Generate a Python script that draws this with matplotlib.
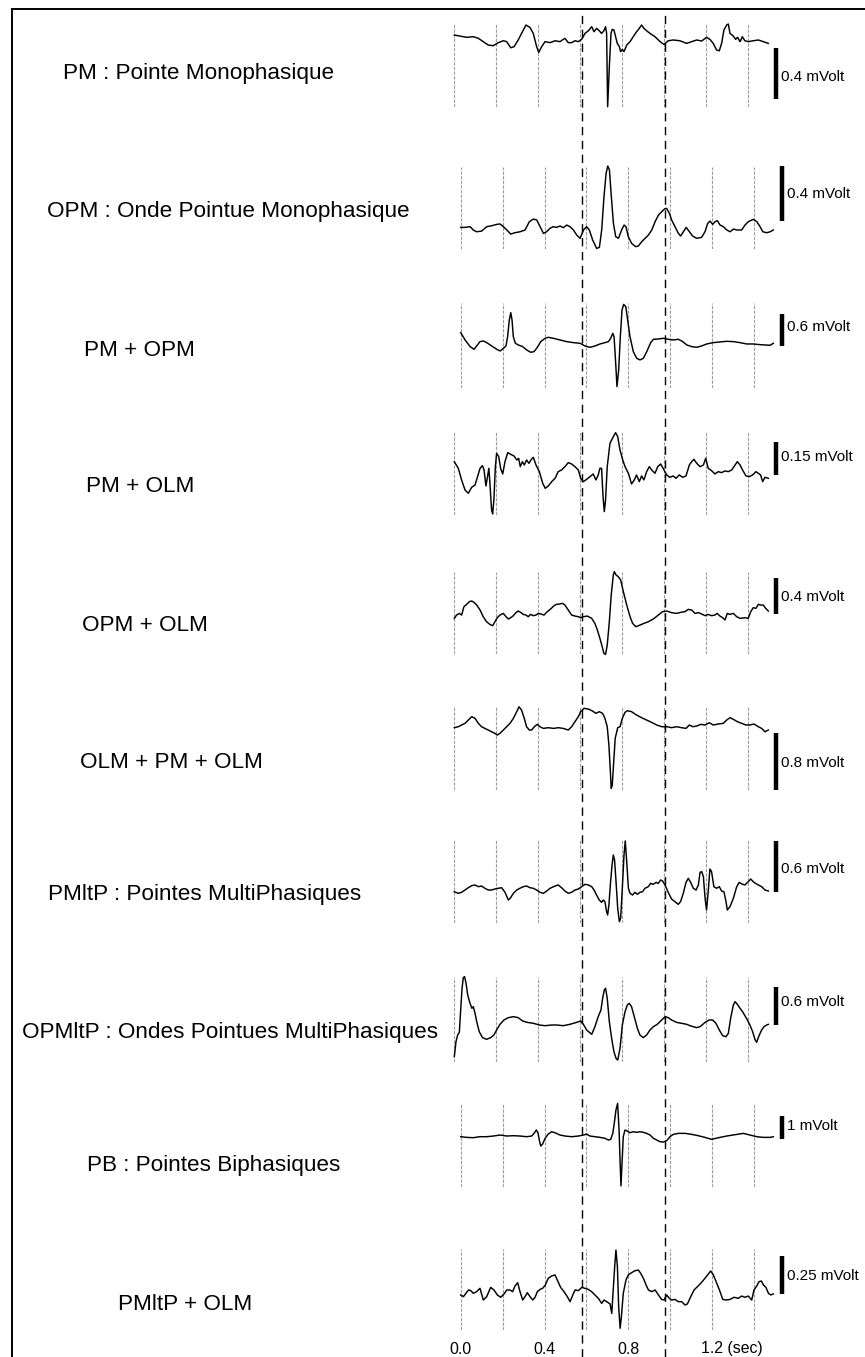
import matplotlib.pyplot as plt
from matplotlib.lines import Line2D
from matplotlib.transforms import blended_transform_factory

plt.rcParams['font.family'] = ['Liberation Sans', 'DejaVu Sans']

W, H = 865, 1357
PX_PER_SEC = 209.5   # horizontal scale of every trace
T_END = 1.5
BAR_T = 1.535        # where the amplitude bar sits, in seconds

# ---- data -----------------------------------------------------------------
labels = ["PM : Pointe Monophasique",
          "OPM : Onde Pointue Monophasique",
          "PM + OPM",
          "PM + OLM",
          "OPM + OLM",
          "OLM + PM + OLM",
          "PMltP : Pointes MultiPhasiques",
          "OPMltP : Ondes Pointues MultiPhasiques",
          "PB : Pointes Biphasiques",
          "PMltP + OLM"]
scale_mv = [0.4, 0.4, 0.6, 0.15, 0.4, 0.8, 0.6, 0.6, 1, 0.25]
scale_txt = ["0.4 mVolt", "0.4 mVolt", "0.6 mVolt", "0.15 mVolt", "0.4 mVolt",
             "0.8 mVolt", "0.6 mVolt", "0.6 mVolt", "1 mVolt", "0.25 mVolt"]
grid_t = [0.0, 0.2, 0.4, 0.6, 0.8, 1.0, 1.2, 1.4]
tick_t = [0.0, 0.4, 0.8, 1.2]
tick_lab = ["0.0", "0.4", "0.8", "1.2 (sec)"]
mark_t = [0.608, 1.008]

t_pm = [0.000, 0.027, 0.059, 0.091, 0.115, 0.138, 0.162, 0.186, 0.210, 0.234,
        0.250, 0.269, 0.285, 0.305, 0.321, 0.342, 0.361, 0.377, 0.393, 0.403,
        0.417, 0.433, 0.457, 0.481, 0.504, 0.528, 0.544, 0.560, 0.576, 0.592,
        0.608, 0.624, 0.640, 0.656, 0.667, 0.679, 0.692, 0.703, 0.714, 0.722,
        0.727, 0.732, 0.740, 0.748, 0.754, 0.762, 0.770, 0.778, 0.788, 0.794,
        0.802, 0.810, 0.823, 0.839, 0.854, 0.870, 0.883, 0.894, 0.905, 0.918,
        0.934, 0.958, 0.982, 1.001, 1.021, 1.045, 1.077, 1.109, 1.133, 1.157,
        1.181, 1.204, 1.220, 1.236, 1.252, 1.265, 1.276, 1.287, 1.300, 1.308,
        1.316, 1.332, 1.343, 1.352, 1.364, 1.375, 1.387, 1.403, 1.427, 1.451,
        1.475, 1.499]
v_pm = [0.013, 0.005, -0.005, 0, -0.013, -0.039, -0.066, -0.071, -0.047, -0.032,
        -0.039, -0.087, -0.079, -0.026, 0.026, 0.092, 0.074, 0.026, -0.079, -0.124,
        -0.079, -0.039, -0.047, -0.032, -0.039, -0.013, -0.047, -0.047, -0.032, -0.039,
        -0.021, 0.026, 0.047, 0.079, 0.039, 0.066, 0.047, 0.026, 0.047, 0.079,
        0.026, -0.553, -0.237, 0.026, 0.058, 0.053, 0, -0.053, -0.079, -0.118,
        -0.100, -0.118, -0.066, -0.039, 0, 0.039, 0.066, 0.092, 0.066, 0.047,
        0.026, 0, -0.039, -0.061, -0.032, -0.026, -0.032, -0.053, -0.039, -0.026,
        -0.034, -0.005, -0.021, -0.053, -0.105, -0.111, -0.053, 0.053, 0.092, 0.100,
        0.026, 0.005, -0.021, -0.005, -0.039, 0, -0.032, -0.039, -0.032, -0.026,
        -0.039, -0.053]

t_opm = [0, 0.021, 0.045, 0.060, 0.076, 0.100, 0.124, 0.148, 0.172, 0.188,
         0.204, 0.220, 0.239, 0.259, 0.283, 0.307, 0.328, 0.347, 0.363, 0.379,
         0.395, 0.410, 0.426, 0.442, 0.458, 0.474, 0.490, 0.506, 0.522, 0.538,
         0.554, 0.570, 0.586, 0.601, 0.614, 0.630, 0.649, 0.662, 0.673, 0.684,
         0.694, 0.702, 0.710, 0.719, 0.729, 0.740, 0.753, 0.768, 0.780, 0.789,
         0.800, 0.816, 0.835, 0.848, 0.864, 0.880, 0.896, 0.912, 0.928, 0.944,
         0.960, 0.975, 0.983, 0.996, 1.007, 1.023, 1.039, 1.050, 1.063, 1.076,
         1.092, 1.107, 1.126, 1.150, 1.166, 1.179, 1.190, 1.203, 1.214, 1.225,
         1.238, 1.254, 1.270, 1.286, 1.302, 1.317, 1.341, 1.357, 1.373, 1.397,
         1.413, 1.429, 1.442, 1.461, 1.477, 1.492]
v_opm = [-0.005, -0.005, 0, -0.024, -0.037, -0.032, 0, 0.007, 0.017, 0.020,
         0, -0.024, -0.054, -0.044, -0.037, -0.024, 0.037, 0.056, 0.049, 0,
         -0.049, -0.037, -0.012, 0, -0.005, 0.005, -0.007, 0.012, 0, -0.024,
         -0.061, -0.085, -0.024, 0, -0.024, -0.098, -0.159, -0.151, -0.024, 0.220,
         0.390, 0.444, 0.415, 0.220, 0.024, -0.073, -0.085, -0.024, 0.012, 0,
         -0.073, -0.122, -0.146, -0.141, -0.110, -0.085, -0.061, -0.024, 0.037, 0.085,
         0.110, 0.132, 0.134, 0.098, 0.049, 0, -0.049, -0.068, -0.037, -0.005,
         -0.037, -0.068, -0.085, -0.078, -0.037, 0.024, 0.041, 0.017, 0.037, 0.044,
         0.012, 0, -0.024, -0.037, -0.017, -0.024, -0.024, 0.012, 0.037, 0.054,
         0.037, 0, -0.037, -0.044, -0.037, -0.024]

t_pm_opm = [0, 0.021, 0.045, 0.064, 0.076, 0.092, 0.108, 0.124, 0.148, 0.172,
            0.188, 0.204, 0.216, 0.224, 0.232, 0.239, 0.245, 0.251, 0.261, 0.275,
            0.296, 0.315, 0.334, 0.350, 0.366, 0.382, 0.403, 0.418, 0.442, 0.474,
            0.506, 0.538, 0.570, 0.593, 0.617, 0.641, 0.665, 0.689, 0.705, 0.716,
            0.726, 0.732, 0.738, 0.746, 0.754, 0.762, 0.770, 0.778, 0.788, 0.797,
            0.808, 0.824, 0.840, 0.856, 0.872, 0.888, 0.907, 0.920, 0.944, 0.967,
            0.991, 1.015, 1.039, 1.060, 1.079, 1.103, 1.126, 1.150, 1.174, 1.206,
            1.238, 1.270, 1.302, 1.333, 1.365, 1.397, 1.429, 1.453, 1.477, 1.492]
v_pm_opm = [0.204, 0.064, -0.064, -0.115, -0.051, 0.032, 0.045, 0.013, -0.051, -0.115,
            -0.147, -0.096, -0.051, 0.128, 0.447, 0.587, 0.447, 0.128, 0, -0.032,
            -0.064, -0.128, -0.172, -0.160, -0.077, 0.032, 0.096, 0.115, 0.096, 0.064,
            0.032, 0.013, 0, -0.051, -0.077, -0.051, -0.013, 0.013, 0.032, 0.096,
            0.191, 0.128, -0.255, -0.830, -0.511, 0.128, 0.638, 0.747, 0.702, 0.447,
            0.128, -0.160, -0.287, -0.319, -0.287, -0.160, 0.013, 0.077, 0.083, 0.096,
            0.077, 0.064, 0.077, 0.032, -0.032, -0.064, -0.077, -0.051, -0.013, 0.013,
            0.026, 0.038, 0.032, 0.013, -0.013, -0.013, -0.026, -0.032, -0.038, 0]

t_pm_olm = [0, 0.019, 0.035, 0.051, 0.067, 0.083, 0.099, 0.111, 0.123, 0.134,
            0.142, 0.151, 0.159, 0.165, 0.170, 0.178, 0.183, 0.189, 0.196, 0.202,
            0.212, 0.221, 0.231, 0.242, 0.255, 0.269, 0.285, 0.298, 0.307, 0.315,
            0.325, 0.334, 0.345, 0.356, 0.368, 0.377, 0.390, 0.406, 0.422, 0.434,
            0.449, 0.465, 0.481, 0.496, 0.512, 0.528, 0.544, 0.560, 0.576, 0.592,
            0.603, 0.616, 0.632, 0.648, 0.663, 0.676, 0.687, 0.695, 0.703, 0.710,
            0.716, 0.722, 0.730, 0.743, 0.759, 0.770, 0.780, 0.791, 0.804, 0.815,
            0.831, 0.846, 0.859, 0.870, 0.883, 0.894, 0.905, 0.918, 0.931, 0.942,
            0.958, 0.971, 0.985, 1.001, 1.014, 1.029, 1.045, 1.058, 1.074, 1.090,
            1.106, 1.122, 1.133, 1.144, 1.157, 1.173, 1.189, 1.200, 1.212, 1.228,
            1.244, 1.260, 1.276, 1.292, 1.308, 1.324, 1.335, 1.351, 1.364, 1.376,
            1.392, 1.408, 1.424, 1.440, 1.451, 1.462, 1.472, 1.483, 1.499]
v_pm_olm = [0.0525, 0.0225, -0.030, -0.075, -0.090, -0.063, -0.0525, -0.015, 0.0225, 0.0345,
            0.015, -0.057, -0.012, 0.0225, -0.045, -0.165, -0.183, -0.120, 0.030, 0.090,
            0.075, 0.0225, -0.003, 0.0525, 0.093, 0.0855, 0.078, 0.060, 0.0675, 0.030,
            0.0525, 0.0375, 0.060, 0.045, 0.063, 0.072, 0.0375, 0.0075, -0.045, -0.0675,
            -0.057, -0.0375, -0.0225, 0.0075, 0.015, 0.030, 0.048, 0.042, 0.030, 0.015,
            -0.0225, -0.0375, -0.027, -0.015, -0.003, -0.030, -0.0075, 0.0225, 0.0225, -0.105,
            -0.1725, -0.120, 0.030, 0.135, 0.165, 0.183, 0.165, 0.105, 0.060, 0.030,
            0, -0.048, -0.030, -0.0075, -0.0375, -0.012, -0.030, 0.0075, 0.030, 0.015,
            0, 0.030, 0.042, 0.015, -0.0075, -0.018, -0.012, -0.0225, -0.0075, -0.018,
            -0.012, 0.0375, 0.0525, 0.063, 0.045, 0.030, 0.0375, 0.0675, 0.0225, 0.012,
            -0.003, 0.0075, 0.003, 0.0105, 0.0075, 0.015, 0.030, 0.0525, 0.0375, 0.015,
            -0.012, -0.015, -0.0075, 0.0075, 0, -0.0075, -0.0375, -0.018, -0.0225]

t_opm_olm = [0, 0.011, 0.024, 0.035, 0.046, 0.059, 0.072, 0.083, 0.094, 0.107,
             0.123, 0.138, 0.154, 0.170, 0.183, 0.194, 0.205, 0.218, 0.234, 0.247,
             0.258, 0.269, 0.282, 0.294, 0.305, 0.317, 0.329, 0.342, 0.353, 0.364,
             0.377, 0.390, 0.401, 0.414, 0.428, 0.444, 0.460, 0.476, 0.488, 0.501,
             0.517, 0.528, 0.544, 0.560, 0.576, 0.592, 0.603, 0.616, 0.635, 0.656,
             0.671, 0.683, 0.695, 0.706, 0.714, 0.722, 0.730, 0.740, 0.749, 0.759,
             0.764, 0.772, 0.783, 0.794, 0.807, 0.823, 0.839, 0.851, 0.867, 0.886,
             0.905, 0.926, 0.950, 0.974, 0.994, 1.014, 1.037, 1.061, 1.080, 1.101,
             1.117, 1.133, 1.149, 1.165, 1.181, 1.197, 1.212, 1.228, 1.244, 1.255,
             1.268, 1.281, 1.292, 1.303, 1.316, 1.332, 1.348, 1.364, 1.387, 1.403,
             1.415, 1.427, 1.440, 1.451, 1.462, 1.475, 1.486, 1.499]
v_opm_olm = [-0.018, 0.018, 0.036, 0.018, 0.109, 0.135, 0.164, 0.171, 0.156, 0.127,
             0.073, 0, -0.055, -0.084, -0.098, -0.055, -0.011, 0.018, 0.036, 0,
             -0.025, -0.011, 0.011, 0.044, 0.062, 0.047, 0.025, 0.018, 0, 0.025,
             0.011, 0.018, 0.036, 0.029, 0.018, 0.055, 0.084, 0.120, 0.135, 0.138,
             0.145, 0.127, 0.073, 0.018, 0.007, 0, -0.011, 0, 0.007, -0.018,
             -0.073, -0.145, -0.236, -0.327, -0.400, -0.411, -0.309, -0.055, 0.236, 0.455,
             0.491, 0.455, 0.436, 0.400, 0.273, 0.127, 0, -0.073, -0.109, -0.091,
             -0.073, -0.055, -0.025, 0.018, 0.055, 0.062, 0.044, 0.036, 0.047, 0.055,
             0.080, 0.073, 0.036, 0.044, 0.029, 0.011, 0.025, 0.011, 0.018, 0.036,
             0.007, -0.011, -0.036, 0.036, 0.025, 0.036, 0, -0.018, -0.011, -0.018,
             0.055, 0.098, 0.091, 0.135, 0.127, 0.127, 0.091, 0.062]

t_olm_pm_olm = [0, 0.019, 0.035, 0.051, 0.067, 0.083, 0.099, 0.115, 0.130, 0.146,
                0.162, 0.178, 0.194, 0.205, 0.218, 0.234, 0.250, 0.266, 0.282, 0.298,
                0.309, 0.321, 0.334, 0.345, 0.358, 0.369, 0.382, 0.396, 0.409, 0.425,
                0.449, 0.473, 0.496, 0.520, 0.544, 0.560, 0.576, 0.592, 0.603, 0.619,
                0.640, 0.660, 0.676, 0.692, 0.708, 0.719, 0.730, 0.738, 0.745, 0.749,
                0.754, 0.761, 0.768, 0.780, 0.791, 0.802, 0.815, 0.826, 0.846, 0.870,
                0.894, 0.918, 0.942, 0.966, 0.990, 1.014, 1.037, 1.061, 1.085, 1.106,
                1.122, 1.138, 1.157, 1.176, 1.197, 1.217, 1.236, 1.260, 1.284, 1.300,
                1.316, 1.332, 1.351, 1.372, 1.392, 1.411, 1.430, 1.451, 1.467, 1.483,
                1.499]
v_olm_pm_olm = [-0.014, 0, 0.024, 0.047, 0.094, 0.141, 0.118, 0.047, 0, -0.024,
                -0.047, -0.071, -0.094, -0.118, -0.094, -0.047, 0, 0.047, 0.118, 0.212,
                0.282, 0.235, 0.118, 0, -0.047, -0.047, 0, 0.033, 0, -0.024,
                -0.014, -0.024, -0.014, -0.024, -0.047, 0, 0.071, 0.141, 0.212, 0.259,
                0.249, 0.221, 0.188, 0.212, 0.188, 0.118, 0, -0.259, -0.635, -0.871,
                -0.824, -0.494, -0.165, -0.014, 0, 0.118, 0.202, 0.226, 0.212, 0.165,
                0.127, 0.094, 0.061, 0.024, 0, 0, -0.014, 0, -0.014, -0.024,
                0.024, 0, 0.009, 0.033, 0.024, 0.056, 0.024, 0.038, 0.047, 0.094,
                0.127, 0.104, 0.071, 0.047, 0.024, 0.024, 0.038, 0, -0.024, -0.071,
                -0.047]

t_pmltp = [0, 0.019, 0.035, 0.051, 0.067, 0.083, 0.099, 0.115, 0.130, 0.146,
           0.162, 0.178, 0.194, 0.210, 0.226, 0.242, 0.258, 0.269, 0.282, 0.298,
           0.313, 0.329, 0.345, 0.361, 0.377, 0.393, 0.409, 0.425, 0.441, 0.457,
           0.481, 0.496, 0.512, 0.528, 0.544, 0.560, 0.576, 0.592, 0.608, 0.624,
           0.640, 0.656, 0.667, 0.679, 0.692, 0.703, 0.711, 0.719, 0.727, 0.732,
           0.738, 0.746, 0.753, 0.759, 0.765, 0.772, 0.780, 0.788, 0.794, 0.802,
           0.810, 0.816, 0.823, 0.831, 0.839, 0.851, 0.862, 0.874, 0.886, 0.899,
           0.910, 0.926, 0.937, 0.950, 0.963, 0.974, 0.985, 0.994, 1.006, 1.021,
           1.037, 1.053, 1.069, 1.080, 1.093, 1.106, 1.117, 1.128, 1.141, 1.154,
           1.165, 1.173, 1.181, 1.189, 1.197, 1.204, 1.212, 1.220, 1.228, 1.239,
           1.252, 1.265, 1.276, 1.287, 1.297, 1.303, 1.316, 1.332, 1.348, 1.360,
           1.372, 1.387, 1.403, 1.415, 1.430, 1.451, 1.467, 1.483, 1.499]
v_pmltp = [-0.020, -0.039, -0.027, 0, 0.027, 0.051, 0.059, 0.039, 0.047, 0.020,
           0, 0, 0.012, 0.020, 0.027, -0.027, -0.118, -0.090, -0.039, 0,
           0.020, 0.039, 0.047, 0.027, 0.020, 0, -0.027, -0.039, -0.012, 0.020,
           0.047, 0.059, 0.027, -0.012, -0.039, -0.027, 0, 0.012, 0.039, 0.067,
           0.059, 0.039, 0, -0.059, -0.118, -0.145, -0.118, -0.137, -0.255, -0.294,
           -0.176, 0.098, 0.294, 0.412, 0.353, 0.098, -0.216, -0.373, -0.333, 0.020,
           0.412, 0.577, 0.333, 0.020, -0.039, -0.059, -0.027, -0.051, -0.027, -0.020,
           0.020, 0.039, 0.078, 0.067, 0.090, 0.078, 0.118, 0.106, 0.059, -0.027,
           -0.106, -0.137, -0.169, -0.137, -0.039, 0.090, 0.137, 0.090, 0.020, 0,
           0.059, 0.208, 0.216, 0.157, -0.098, -0.235, -0.020, 0.247, 0.216, 0.039,
           0.020, 0.039, -0.012, -0.020, -0.137, -0.235, -0.196, -0.098, 0.039, 0.090,
           0.071, 0.059, 0.098, 0.129, 0.090, 0.059, 0.039, 0, -0.012]

t_opmltp = [0, 0.008, 0.016, 0.024, 0.030, 0.037, 0.043, 0.049, 0.056, 0.064,
            0.075, 0.084, 0.091, 0.099, 0.107, 0.119, 0.135, 0.154, 0.173, 0.189,
            0.202, 0.218, 0.237, 0.258, 0.282, 0.305, 0.326, 0.348, 0.377, 0.406,
            0.433, 0.465, 0.488, 0.520, 0.552, 0.584, 0.603, 0.616, 0.632, 0.656,
            0.671, 0.687, 0.700, 0.708, 0.716, 0.722, 0.730, 0.740, 0.751, 0.762,
            0.772, 0.780, 0.791, 0.802, 0.815, 0.826, 0.835, 0.846, 0.859, 0.874,
            0.886, 0.902, 0.918, 0.934, 0.950, 0.969, 0.990, 1.006, 1.021, 1.037,
            1.061, 1.085, 1.109, 1.125, 1.141, 1.157, 1.173, 1.197, 1.217, 1.233,
            1.249, 1.265, 1.281, 1.297, 1.308, 1.319, 1.332, 1.340, 1.351, 1.364,
            1.376, 1.387, 1.399, 1.411, 1.424, 1.435, 1.443, 1.456, 1.467, 1.478,
            1.491, 1.499]
v_opmltp = [-0.504, -0.266, -0.159, -0.117, 0.212, 0.584, 0.754, 0.770, 0.664, 0.478,
            0.345, 0.266, 0.292, 0.186, 0.053, -0.106, -0.202, -0.228, -0.202, -0.159,
            -0.080, 0.011, 0.080, 0.117, 0.133, 0.117, 0.064, 0.042, 0.027, 0,
            -0.011, 0, 0, -0.011, 0.011, 0.042, 0.064, 0.011, -0.080, -0.149,
            -0.027, 0.133, 0.239, 0.425, 0.558, 0.584, 0.425, 0.053, -0.212, -0.425,
            -0.531, -0.558, -0.372, 0, 0.212, 0.319, 0.345, 0.292, 0.133, -0.053,
            -0.159, -0.202, -0.159, -0.080, -0.027, 0.011, 0.080, 0.133, 0.117, 0.080,
            0.042, 0.027, 0.011, -0.011, -0.027, -0.042, -0.027, 0.042, 0.080, 0.080,
            0.027, -0.080, -0.170, -0.186, -0.133, 0.106, 0.319, 0.372, 0.329, 0.266,
            0.212, 0.149, 0.080, 0, -0.106, -0.228, -0.276, -0.159, -0.080, -0.027,
            0, 0.011]

t_pb = [0, 0.029, 0.060, 0.092, 0.124, 0.156, 0.188, 0.220, 0.251, 0.283,
        0.315, 0.339, 0.350, 0.361, 0.369, 0.375, 0.382, 0.391, 0.403, 0.418,
        0.434, 0.450, 0.474, 0.498, 0.530, 0.562, 0.586, 0.601, 0.617, 0.641,
        0.665, 0.689, 0.705, 0.716, 0.726, 0.733, 0.741, 0.749, 0.756, 0.761,
        0.765, 0.770, 0.776, 0.784, 0.792, 0.808, 0.824, 0.840, 0.856, 0.872,
        0.888, 0.904, 0.920, 0.936, 0.951, 0.967, 0.983, 0.999, 1.015, 1.039,
        1.071, 1.103, 1.134, 1.166, 1.198, 1.230, 1.270, 1.309, 1.349, 1.381,
        1.413, 1.445, 1.477, 1.492]
v_pb = [0, -0.029, -0.043, 0, 0, 0.029, 0.071, 0.029, 0.043, 0.029,
        0, 0.029, 0.143, 0.286, 0.171, -0.143, -0.400, -0.314, -0.071, 0.114,
        0.214, 0.171, 0.071, 0.029, 0, 0.029, 0.071, 0.114, 0.029, 0,
        -0.029, -0.071, -0.143, -0.114, 0.143, 0.571, 1.143, 1.429, 0.286, -1.143,
        -2.114, -1.143, 0, 0.286, 0.257, 0.171, 0.214, 0.186, 0.214, 0.186,
        0.143, 0.071, -0.071, -0.143, -0.214, -0.229, -0.171, 0, 0.100, 0.143,
        0.143, 0.100, 0.043, -0.029, -0.114, -0.043, 0.029, 0.086, 0.143, 0.071,
        0, -0.029, -0.029, 0]

t_pmltp_olm = [0, 0.013, 0.025, 0.037, 0.048, 0.060, 0.076, 0.092, 0.108, 0.124,
               0.143, 0.159, 0.175, 0.191, 0.207, 0.220, 0.235, 0.248, 0.259, 0.272,
               0.283, 0.296, 0.307, 0.318, 0.331, 0.344, 0.355, 0.366, 0.379, 0.391,
               0.404, 0.418, 0.434, 0.450, 0.461, 0.477, 0.493, 0.509, 0.522, 0.535,
               0.546, 0.562, 0.578, 0.593, 0.609, 0.625, 0.641, 0.657, 0.673, 0.684,
               0.697, 0.713, 0.721, 0.729, 0.735, 0.741, 0.748, 0.754, 0.761, 0.767,
               0.776, 0.789, 0.800, 0.816, 0.832, 0.848, 0.859, 0.872, 0.885, 0.896,
               0.912, 0.928, 0.944, 0.959, 0.971, 0.983, 0.996, 1.007, 1.023, 1.039,
               1.055, 1.071, 1.082, 1.098, 1.114, 1.130, 1.146, 1.166, 1.182, 1.193,
               1.206, 1.219, 1.235, 1.251, 1.267, 1.286, 1.305, 1.325, 1.341, 1.357,
               1.373, 1.389, 1.400, 1.413, 1.424, 1.435, 1.445, 1.457, 1.469, 1.480,
               1.492]
v_pmltp_olm = [0, -0.011, 0.011, 0.033, 0.029, 0.011, 0.022, 0.044, -0.033, -0.011,
               0.050, 0.033, 0, -0.015, 0.007, 0.033, 0.033, 0.022, 0.059, 0.081,
               0.022, -0.033, -0.011, 0.015, -0.011, -0.033, -0.015, 0.022, 0.037, 0.044,
               0.066, 0.110, 0.125, 0.132, 0.099, 0.050, 0.022, -0.011, -0.044, 0,
               0.033, 0.029, 0.050, 0.044, 0.037, 0.022, 0, -0.022, -0.055, -0.033,
               -0.044, -0.059, -0.121, 0.055, 0.186, 0.296, 0.186, -0.077, -0.219, -0.143,
               0.011, 0.099, 0.132, 0.147, 0.160, 0.164, 0.143, 0.110, 0.066, 0.033,
               0.022, 0.033, 0, -0.029, -0.033, 0, -0.022, -0.033, -0.029, -0.044,
               -0.044, -0.066, -0.059, -0.011, 0.033, 0.055, 0.077, 0.110, 0.138, 0.158,
               0.132, 0.088, 0.033, -0.029, -0.033, -0.029, -0.015, -0.022, -0.007, -0.015,
               -0.007, -0.033, 0.033, 0.059, 0.088, 0.092, 0.066, 0.050, 0.011, 0,
               0.007]

times = [t_pm, t_opm, t_pm_opm, t_pm_olm, t_opm_olm,
         t_olm_pm_olm, t_pmltp, t_opmltp, t_pb, t_pmltp_olm]
volts = [v_pm, v_opm, v_pm_opm, v_pm_olm, v_opm_olm,
         v_olm_pm_olm, v_pmltp, v_opmltp, v_pb, v_pmltp_olm]

# ---- layout (pixels of the 865x1357 image) ---------------------------------
x0 = [454.3, 460.7, 460.7, 454.3, 454.3, 454.3, 454.3, 454.3, 460.7, 460.7]
grid_top = [24.0, 166.7, 303.3, 432.3, 571.7, 706.7, 840.0, 977.3, 1103.3, 1249.3]
grid_bot = [107.3, 249.3, 388.3, 515.0, 654.3, 790.0, 923.3, 1061.7, 1187.3, 1330.0]
zero_px = [36.7, 226.7, 343.3, 473.3, 616.7, 726.7, 890.0, 1025.0, 1136.7, 1295.0]
bar_px = [50.7, 54.7, 31.3, 33.3, 36.7, 56.7, 51.0, 37.7, 23.3, 38.0]
bar_bot = [99.0, 220.7, 345.7, 475.0, 614.3, 790.0, 891.7, 1025.0, 1139.0, 1294.0]
bar_lab_y = [75.7, 192.3, 325.7, 455.7, 595.7, 761.7, 867.3, 1000.7, 1125.0, 1274.0]
lab_x = [63, 47, 84, 86, 82, 80, 48, 22, 87, 118]
lab_y = [71, 209, 348, 484, 623, 760, 892, 1030, 1163, 1302]

fig = plt.figure(figsize=(W / 100, H / 100), dpi=100)
fig.patch.set_facecolor('white')
ax_w = T_END * PX_PER_SEC / W

for i in range(len(labels)):
    s = scale_mv[i] / bar_px[i]          # mV per pixel
    ax = fig.add_axes([x0[i] / W, 1 - grid_bot[i] / H, ax_w,
                       (grid_bot[i] - grid_top[i]) / H])
    ax.set_xlim(0, T_END)
    ax.set_ylim((zero_px[i] - grid_bot[i]) * s, (zero_px[i] - grid_top[i]) * s)
    ax.axis('off')

    for g in grid_t:
        ax.axvline(g, color='0.62', lw=0.8, ls=(0, (3, 1.2)), zorder=1)

    ax.plot(times[i], volts[i], color='black', lw=1.05, clip_on=False, zorder=3)

    # amplitude bar and its label
    b = (zero_px[i] - bar_bot[i]) * s
    ax.plot([BAR_T, BAR_T], [b, b + scale_mv[i]], color='black', lw=3.2,
            solid_capstyle='butt', clip_on=False)
    ax.text(BAR_T + 5 / PX_PER_SEC, (zero_px[i] - bar_lab_y[i]) * s, scale_txt[i],
            ha='left', va='center_baseline', fontsize=11, clip_on=False)

    fig.text(lab_x[i] / W, 1 - lab_y[i] / H, labels[i], ha='left',
             va='center_baseline', fontsize=16.2)

    if i == len(labels) - 1:
        tr = blended_transform_factory(ax.transData, fig.transFigure)
        for t, lab in zip(tick_t, tick_lab):
            if lab.endswith('(sec)'):
                ax.text(t - 11 / PX_PER_SEC, 1 - 1347.5 / H, lab, transform=tr,
                        ha='left', va='center_baseline', fontsize=11.4)
            else:
                ax.text(t, 1 - 1347.5 / H, lab, transform=tr,
                        ha='center', va='center_baseline', fontsize=11.4)

# dashed reference lines through all rows
ax_d = fig.add_axes([x0[0] / W, 0, ax_w, 1])
ax_d.set_xlim(0, T_END)
ax_d.set_ylim(0, 1)
ax_d.axis('off')
for t in mark_t:
    ax_d.axvline(t, ymin=0, ymax=1 - 13 / H, color='black', lw=1.0,
                 ls=(0, (6, 4)))

# frame (left and top edges only visible)
fig.add_artist(Line2D([12 / W, 12 / W], [0, 1 - 9 / H], color='black', lw=1.4))
fig.add_artist(Line2D([12 / W, 1], [1 - 9 / H, 1 - 9 / H], color='black', lw=1.4))

fig.savefig('out.png', dpi=100, facecolor='white')
